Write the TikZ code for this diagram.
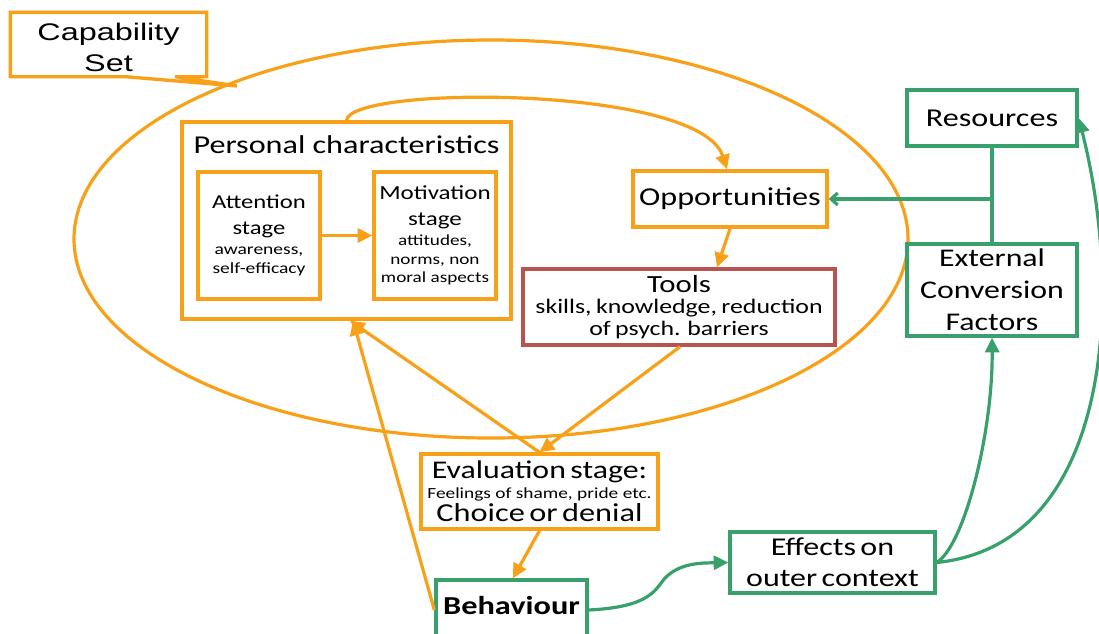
\documentclass[tikz,border=0pt]{standalone}
\usepackage{fontspec}
\setmainfont{Carlito}[FakeStretch=1.25]
\newfontfamily\capfont{Liberation Sans}[FakeStretch=1.35]
\usetikzlibrary{arrows.meta,shapes.geometric,calc}
\definecolor{corange}{RGB}{247,160,24}
\definecolor{cgreen}{RGB}{56,160,107}
\definecolor{cred}{RGB}{184,84,80}
\newcommand{\mytl}[3]{{\fontsize{#1}{#2}\selectfont #3\par}}
\begin{document}
\begin{tikzpicture}[x=0.75pt,y=-0.75pt,
  box/.style={rectangle, line width=2.5pt, fill=white, inner sep=0pt, align=center},
  obox/.style={box, draw=corange},
  gbox/.style={box, draw=cgreen},
  rbox/.style={box, draw=cred},
  oarr/.style={draw=corange, line width=2.4pt, -{Triangle[length=11pt,width=10.5pt]}},
  garr/.style={draw=cgreen, line width=2.4pt, -{Triangle[length=11pt,width=10.5pt]}},
  gline/.style={draw=cgreen, line width=2.4pt},
  big/.style={font=\fontsize{19.3}{24}\selectfont},
]
\useasboundingbox (0,0) rectangle (1099,633);
\clip (0,0) rectangle (1099,633);

% capability set ellipse
\node[ellipse, draw=corange, line width=2.4pt, minimum width=625.5pt, minimum height=298.5pt, inner sep=0pt] (capset) at (491,239) {};

% capability set callout
\node[box, minimum width=144.75pt, minimum height=45.75pt] (cap) at (108.5,44.5) {};
\node[inner sep=0pt, text width=140pt, align=center] (captxt) at (108.5,47.5)
  {\capfont\fontsize{18}{23.25}\selectfont Capability\\Set\par};
\coordinate (capt) at (237,86);
\draw[corange, line width=2.5pt] (cap.south west) -- ([xshift=12.4pt]cap.south) -- (capt) -- ([xshift=49.9pt]cap.south) -- (cap.south east) -- (cap.north east) -- (cap.north west) -- cycle;

% personal characteristics
\node[obox, minimum width=246.75pt, minimum height=147.75pt] (pc) at (346.5,220.5) {};
\node[big, anchor=base] (pct) at (346.5,153) {Personal characteristics};
\node[obox, minimum width=91.5pt, minimum height=95.25pt, text width=91pt] (att) at (259,235.5)
  {\mytl{14.8}{19.5}{Attention\\stage}\mytl{11.7}{15}{awareness,}\mytl{11.7}{13.7}{self-efficacy}};
\node[obox, minimum width=91.5pt, minimum height=95.25pt, text width=91pt] (mot) at (435,235.5)
  {\mytl{15}{19.2}{Motivation\\stage}\mytl{11.5}{15}{attitudes,}\mytl{11.5}{14.5}{norms, non}\mytl{11.5}{13.7}{moral aspects}};

\node[obox, big, minimum width=145.5pt, minimum height=42pt] (opp) at (730,199) {Opportunities};
\node[rbox, minimum width=234pt, minimum height=57pt, text width=232pt] (tools) at (679,307)
  {\mytl{18.5}{16}{Tools}\mytl{15.5}{16.2}{skills, knowledge, reduction\\of psych. barriers}};
\node[obox, minimum width=177.75pt, minimum height=56.25pt, text width=176pt] (eval) at (539.5,491.5)
  {\mytl{19.1}{20}{Evaluation stage:}\mytl{11.6}{15}{Feelings of shame, pride etc.}\mytl{19.4}{17.25}{Choice or denial}};
\node[gbox, minimum width=113.25pt, minimum height=45pt, text height=13pt, text depth=6pt,
  font=\bfseries\fontsize{19.4}{24}\selectfont] (beh) at (511.5,610) {Behaviour};
\node[gbox, minimum width=153.75pt, minimum height=45.75pt, text width=150pt] (eff) at (832.5,562.5)
  {\mytl{19.2}{23.25}{Effects on\\outer context}};
\node[gbox, big, minimum width=127.5pt, minimum height=42pt] (res) at (992,118) {Resources};
\node[gbox, minimum width=127.5pt, minimum height=69pt, text width=125pt] (ext) at (992,290)
  {\mytl{19.1}{24}{External\\Conversion\\Factors}};

% orange connectors
\draw[oarr] (att.east) -- (mot.west);
\draw[oarr] (pc.north) .. controls (350,85) and (700,85) .. ([xshift=-2.25pt]opp.north);
\draw[oarr] (opp.south) -- ([xshift=28.5pt]tools.north);
\draw[oarr] ([xshift=0.75pt]tools.south) -- (eval.north);
\draw[oarr] (eval.north) -- ([xshift=2.6pt]pc.south);
\draw[oarr] (beh.west) -- ([xshift=4.9pt]pc.south);
\draw[oarr] (eval.south) -- ([xshift=1pt]beh.north);

% green connectors
\draw[garr] (beh.east) .. controls (650,607) and (655,590) .. (665,578) .. controls (680,563) and (700,563) .. (eff.west);
\draw[garr] (eff.east) .. controls (965,545) and (993,430) .. (ext.south);
\draw[garr] (eff.east) .. controls (1110,545) and (1125,300) .. (res.east);
\draw[gline] (res.south) -- (ext.north);
\coordinate (j) at (res.south |- opp.east);
\draw[gline, -{Straight Barb[length=5pt,width=9pt]}] (j) -- (opp.east);
\end{tikzpicture}
\end{document}
